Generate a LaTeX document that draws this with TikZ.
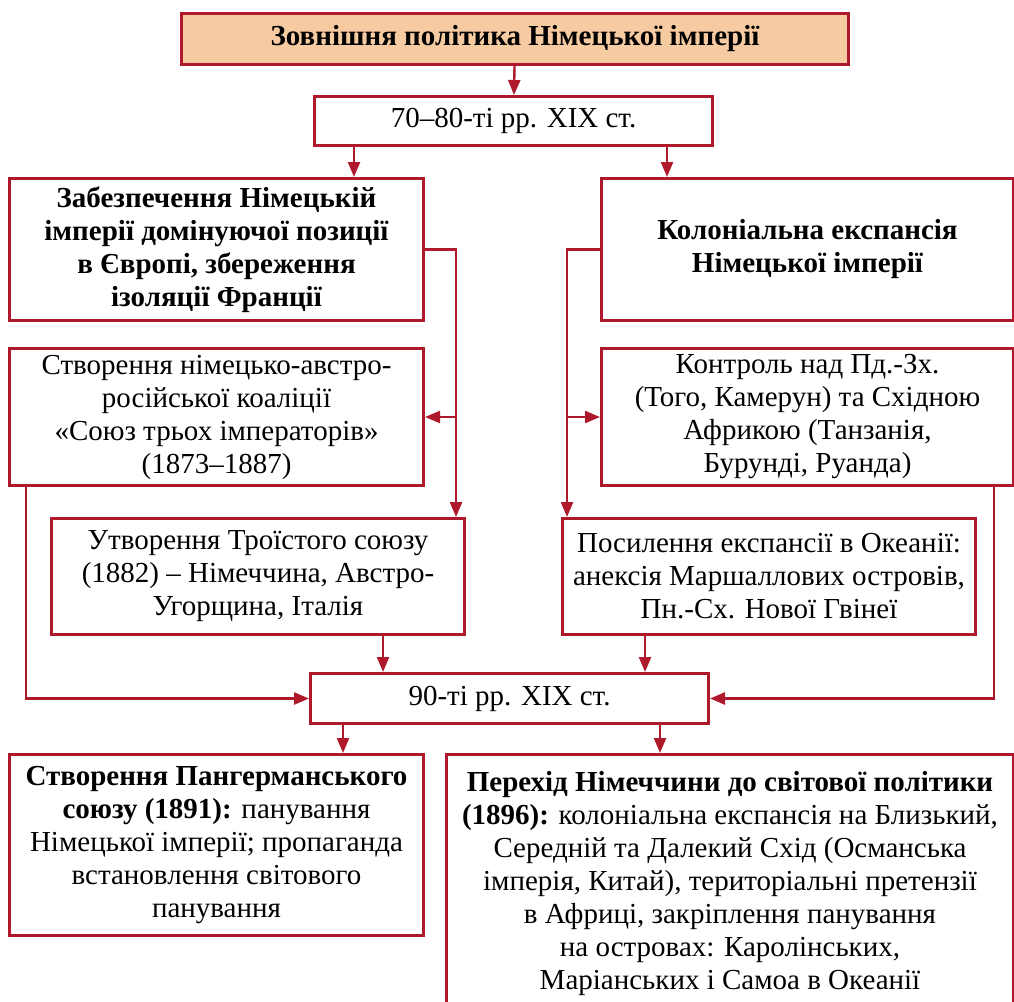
\documentclass[tikz,border=0pt]{standalone}
\usepackage{fontspec}
\setmainfont{Liberation Serif}
\usetikzlibrary{arrows.meta,positioning,calc}
\definecolor{frame}{HTML}{AE1A2C}
\definecolor{peach}{HTML}{F7CBA2}
\tikzset{box/.style={draw=frame,line width=3pt,fill=white,align=center,anchor=north west,inner sep=0pt,font=\fontsize{29}{33}\selectfont},
arr/.style={-{Triangle[length=15pt,width=12pt]},line width=2.4pt,draw=frame}}
\begin{document}
\begin{tikzpicture}[x=1pt,y=-1pt]
\useasboundingbox (0,0) rectangle (1014,1001);
\node[box,fill=peach,minimum width=667pt,minimum height=51pt] (title) at (180,12) {\bfseries Зовнішня політика Німецької імперії};
\node[box,minimum width=398pt,minimum height=49pt] (per1) at (313,95) {70–80-ті рр. XIX ст.};
\node[box,minimum width=414pt,minimum height=142pt] (goal) at (8,177) {\bfseries Забезпечення Німецькій\\\bfseries імперії домінуючої позиції\\\bfseries в Європі, збереження\\\bfseries ізоляції Франції};
\node[box,minimum width=412pt,minimum height=142pt] (colony) at (600,177) {\bfseries Колоніальна експансія\\\bfseries Німецької імперії};
\node[box,minimum width=414pt,minimum height=137pt] (union3) at (8,347) {Створення німецько-австро-\\російської коаліції\\«Союз трьох імператорів»\\(1873–1887)};
\node[box,minimum width=412pt,minimum height=137pt] (control) at (600,347) {Контроль над Пд.-Зх.\\(Того, Камерун) та Східною\\Африкою (Танзанія,\\Бурунді, Руанда)};
\node[box,minimum width=413pt,minimum height=116pt] (triple) at (50,517) {Утворення Троїстого союзу\\(1882) – Німеччина, Австро-\\Угорщина, Італія};
\node[box,minimum width=413pt,minimum height=116pt] (ocean) at (561,517) {Посилення експансії в Океанії:\\анексія Маршаллових островів,\\Пн.-Сх. Нової Гвінеї};
\node[box,minimum width=398pt,minimum height=50pt] (per2) at (309,672) {90-ті рр. XIX ст.};
\node[box,minimum width=414pt,minimum height=181pt] (pan) at (8,753) {{\bfseries Створення Пангерманського}\\{\bfseries союзу (1891):} панування\\Німецької імперії; пропаганда\\встановлення світового\\панування};
\node[box,minimum width=567pt,minimum height=258pt] (world) at (445,753) {{\bfseries Перехід Німеччини до світової політики}\\{\bfseries (1896):} колоніальна експансія на Близький,\\Середній та Далекий Схід (Османська\\імперія, Китай), територіальні претензії\\в Африці, закріплення панування\\на островах: Каролінських,\\Маріанських і Самоа в Океанії};
% bus lines
\coordinate (lbus) at ([xshift=31pt]goal.east);
\coordinate (rbus) at ([xshift=-33pt]colony.west);
\draw[arr] (title) -- (per1);
\draw[arr] ([xshift=41pt]per1.south west) -- ([xshift=41pt]per1.south west |- goal.north);
\draw[arr] ([xshift=-47pt]per1.south east) -- ([xshift=-47pt]per1.south east |- colony.north);
\draw[arr] (goal.east) -| (lbus |- triple.north);
\draw[arr] (lbus |- union3.east) -- (union3.east);
\draw[arr] (colony.west) -| (rbus |- ocean.north);
\draw[arr] (rbus |- control.west) -- (control.west);
\draw[arr] ([xshift=18pt]union3.south west) |- (per2.west);
\draw[arr] ([xshift=-21pt]control.south east) |- (per2.east);
\draw[arr] ([xshift=74pt]per2.north west |- triple.south) -- ([xshift=74pt]per2.north west);
\draw[arr] ([xshift=-65pt]per2.north east |- ocean.south) -- ([xshift=-65pt]per2.north east);
\draw[arr] ([xshift=34pt]per2.south west) -- ([xshift=34pt]per2.south west |- pan.north);
\draw[arr] ([xshift=-50pt]per2.south east) -- ([xshift=-50pt]per2.south east |- world.north);
\end{tikzpicture}
\end{document}
